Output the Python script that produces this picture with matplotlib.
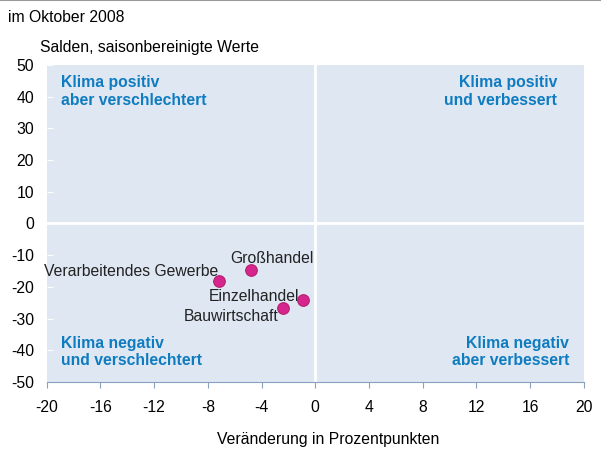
import matplotlib.pyplot as plt

plt.rcParams['font.family'] = ['Liberation Sans', 'DejaVu Sans']
plt.rcParams['axes.unicode_minus'] = False

# Daten: Veränderung (x) und Saldo (y)
branchen = ['Großhandel', 'Verarbeitendes Gewerbe', 'Einzelhandel', 'Bauwirtschaft']
veraenderung = [-4.8, -7.2, -0.9, -2.4]
salden = [-14.7, -18.2, -24.1, -26.6]

xticks = [-20, -16, -12, -8, -4, 0, 4, 8, 12, 16, 20]
yticks = [50, 40, 30, 20, 10, 0, -10, -20, -30, -40, -50]

blau = '#0f7cc0'
fs = 11.3
fig = plt.figure(figsize=(6.01, 4.5), dpi=100)
ax = fig.add_axes([0.0774, 0.1511, 0.8943, 0.7045])
ax.set_facecolor('#dfe7f3')
ax.set_xlim(-20, 20)
ax.set_ylim(-50, 50)
ax.axvline(0, color='white', lw=2)
ax.axhline(0, color='white', lw=2)

ax.scatter(veraenderung, salden, s=70, color='#d6268e', edgecolor='#b3206f', lw=0.8, zorder=3)

# Beschriftungen der Punkte (Versatz zum Punkt, Ausrichtung)
offs = {'Großhandel': (-1.56, 2.15, 'left'),
        'Verarbeitendes Gewerbe': (0.0, 1.64, 'right'),
        'Einzelhandel': (-0.32, -0.35, 'right'),
        'Bauwirtschaft': (-0.32, -4.16, 'right')}
for n, x, y in zip(branchen, veraenderung, salden):
    dx, dy, ha = offs[n]
    ax.text(x + dx, y + dy, n, ha=ha, va='baseline', fontsize=fs, color='#222222', zorder=2)

kw = dict(color=blau, fontsize=fs, fontweight='bold', linespacing=1.2)
ax.text(-18.95, 46.8, 'Klima positiv\naber verschlechtert', ha='left', va='top', **kw)
ax.text(18.0, 46.8, 'Klima positiv\nund verbessert', ha='right', va='top', **kw)
ax.text(-18.95, -35.5, 'Klima negativ\nund verschlechtert', ha='left', va='top', **kw)
ax.text(18.9, -35.5, 'Klima negativ\naber verbessert', ha='right', va='top', **kw)

ax.set_xticks(xticks)
ax.set_yticks(yticks)
ax.tick_params(axis='x', direction='out', length=4, color='#8aa0c0', labelsize=fs, pad=9)
ax.tick_params(axis='y', direction='in', length=4, color='white', labelsize=fs, pad=9)
for s in ['top', 'right', 'left']:
    ax.spines[s].set_visible(False)
ax.spines['bottom'].set_color('#8aa0c0')
ax.set_xlabel('Veränderung in Prozentpunkten', fontsize=fs, labelpad=12)
ax.xaxis.label.set_x(0.524)

fig.text(0.013, 0.962, 'im Oktober 2008', fontsize=fs, va='center')
fig.text(0.067, 0.895, 'Salden, saisonbereinigte Werte', fontsize=fs, va='center')
fig.add_artist(plt.Line2D([0, 1], [0.999, 0.999], color='#999999', lw=1.5))

fig.savefig('out.png', dpi=100)
